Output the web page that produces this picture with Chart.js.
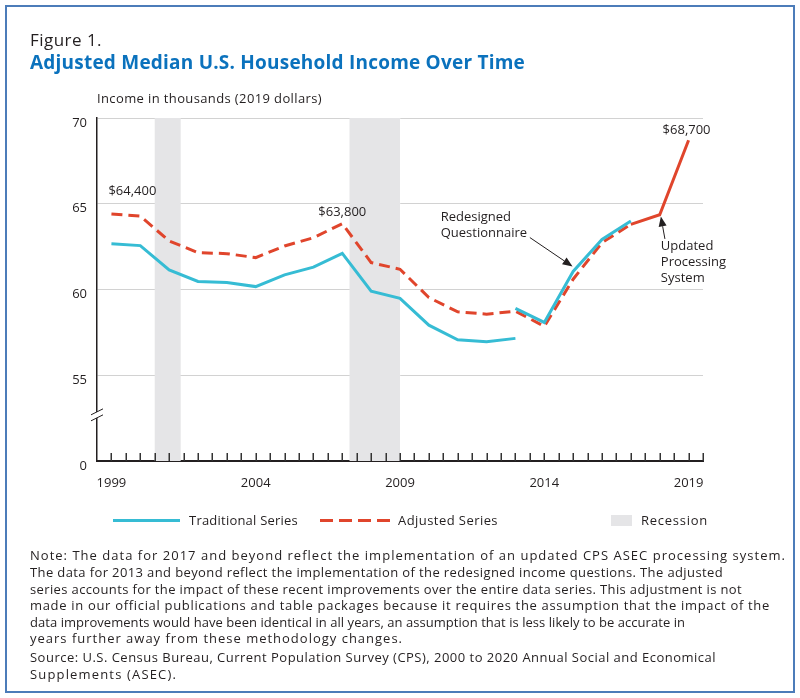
<!DOCTYPE html>
<html lang="en">
<head>
<meta charset="UTF-8">
<title>Figure 1. Adjusted Median U.S. Household Income Over Time</title>
<script src="https://cdn.jsdelivr.net/npm/chart.js@4.4.0/dist/chart.umd.min.js"></script>
<style>
  body { margin: 0; background: #fff; font-family: "Open Sans", sans-serif; color: #231f20; }
  #frame { position: absolute; left: 5px; top: 5px; width: 790px; height: 688px; box-sizing: border-box; border: 2px solid #4c7cb9; }
  #chart { position: absolute; left: 0; top: 0; }
  .t { position: absolute; white-space: nowrap; line-height: 16px; }
  .fig { font-size: 17px; line-height: 20px; }
  .title { font-size: 19px; line-height: 24px; font-weight: 700; color: #0b72bd; }
  .small { font-size: 13px; }
  .sw { position: absolute; }
</style>
</head>
<body>
<div id="frame"></div>
<canvas id="chart" width="800" height="698"></canvas>

<div class="t fig" style="left:30px; top:30px;" data-w="72">Figure 1.</div>
<div class="t title" style="left:30px; top:50px;" data-w="495">Adjusted Median U.S. Household Income Over Time</div>
<div class="t small" style="left:97px; top:90px;" data-w="225">Income in thousands (2019 dollars)</div>

<!-- legend -->
<div class="sw" style="left:113px; top:519px; width:67px; height:3px; background:#36bcd4;"></div>
<div class="t small" style="left:189px; top:512px;" data-w="109">Traditional Series</div>
<div class="sw" style="left:320px; top:519px; width:70px; height:3px; background:repeating-linear-gradient(to right,#e0452c 0 13px,transparent 13px 19px);"></div>
<div class="t small" style="left:398px; top:512px;" data-w="100">Adjusted Series</div>
<div class="sw" style="left:611px; top:515px; width:21px; height:11px; background:#e5e5e7;"></div>
<div class="t small" style="left:641px; top:512px;" data-w="67">Recession</div>

<!-- notes -->
<div class="t small" style="left:30px; top:547px;" data-w="756">Note: The data for 2017 and beyond reflect the implementation of an updated CPS ASEC processing system.</div>
<div class="t small" style="left:30px; top:564px;" data-w="693">The data for 2013 and beyond reflect the implementation of the redesigned income questions. The adjusted</div>
<div class="t small" style="left:30px; top:581px;" data-w="712">series accounts for the impact of these recent improvements over the entire data series. This adjustment is not</div>
<div class="t small" style="left:30px; top:597px;" data-w="740">made in our official publications and table packages because it requires the assumption that the impact of the</div>
<div class="t small" style="left:30px; top:614px;" data-w="655">data improvements would have been identical in all years, an assumption that is less likely to be accurate in</div>
<div class="t small" style="left:30px; top:630px;" data-w="373">years further away from these methodology changes.</div>
<div class="t small" style="left:30px; top:649px;" data-w="686">Source: U.S. Census Bureau, Current Population Survey (CPS), 2000 to 2020 Annual Social and Economical</div>
<div class="t small" style="left:30px; top:666px;" data-w="147">Supplements (ASEC).</div>

<script>
// ---- data ----
var years = [1999, 2000, 2001, 2002, 2003, 2004, 2005, 2006, 2007, 2008, 2009,
             2010, 2011, 2012, 2013, 2014, 2015, 2016, 2017, 2018, 2019];
// traditional series, old questionnaire (1999-2013)
var traditionalOld = [62.67, 62.56, 61.14, 60.47, 60.41, 60.17, 60.85, 61.30, 62.11, 59.90, 59.48,
                      57.92, 57.07, 56.95, 57.15];
// traditional series, redesigned questionnaire (2013-2017)
var traditionalNewYears = [2013, 2014, 2015, 2016, 2017];
var traditionalNew = [58.90, 58.08, 61.05, 62.92, 63.99];
// adjusted series (1999-2019)
var adjusted = [64.40, 64.28, 62.83, 62.15, 62.09, 61.86, 62.54, 63.02, 63.84, 61.57, 61.18,
                59.53, 58.70, 58.56, 58.74, 57.85, 60.60, 62.73, 63.80, 64.36, 68.70];
var recessions = [[2000.5, 2001.4], [2007.25, 2009.0]];
var xTickYears = [1999, 2004, 2009, 2014, 2019];
var yTickValues = [50, 55, 60, 65, 70];
var yTickLabels = ['0', '55', '60', '65', '70'];

var FONT = '"Open Sans", sans-serif';
var INK = '#231f20';

function pts(xs, ys) {
    return ys.map(function(v, i) { return { x: xs[i], y: v }; });
}

// fit html text to the measured widths
document.querySelectorAll('[data-w]').forEach(function(el) {
    var target = +el.dataset.w;
    var w = el.getBoundingClientRect().width;
    el.style.letterSpacing = ((target - w) / el.textContent.length) + 'px';
});

var recessionPlugin = {
    id: 'recessions',
    beforeDatasetsDraw: function(chart) {
        var ctx = chart.ctx, a = chart.chartArea, x = chart.scales.x;
        ctx.save();
        ctx.fillStyle = '#e5e5e7';
        recessions.forEach(function(r) {
            var x0 = x.getPixelForValue(r[0]), x1 = x.getPixelForValue(r[1]);
            ctx.fillRect(x0, a.top, x1 - x0, a.bottom - a.top);
        });
        ctx.restore();
    }
};

function arrow(ctx, x0, y0, x1, y1) {
    var ang = Math.atan2(y1 - y0, x1 - x0);
    var len = 10, wid = 4;
    ctx.beginPath();
    ctx.moveTo(x0, y0);
    ctx.lineTo(x1 - Math.cos(ang) * len, y1 - Math.sin(ang) * len);
    ctx.stroke();
    ctx.beginPath();
    ctx.moveTo(x1, y1);
    ctx.lineTo(x1 - Math.cos(ang) * len - Math.sin(ang) * wid, y1 - Math.sin(ang) * len + Math.cos(ang) * wid);
    ctx.lineTo(x1 - Math.cos(ang) * len + Math.sin(ang) * wid, y1 - Math.sin(ang) * len - Math.cos(ang) * wid);
    ctx.closePath();
    ctx.fill();
}

var decorPlugin = {
    id: 'decor',
    afterDatasetsDraw: function(chart) {
        var ctx = chart.ctx, a = chart.chartArea, x = chart.scales.x, y = chart.scales.y;
        ctx.save();

        // half-year tick marks standing on the x axis
        ctx.strokeStyle = '#333';
        ctx.lineWidth = 1.5;
        for (var t = years[0]; t <= x.max + 0.001; t += 0.5) {
            var px = Math.round(x.getPixelForValue(t)) + 0.25;
            ctx.beginPath();
            ctx.moveTo(px, a.bottom);
            ctx.lineTo(px, a.bottom - 8);
            ctx.stroke();
        }

        // axis break on the y axis
        var by = y.getPixelForValue(52.75);
        ctx.fillStyle = '#fff';
        ctx.beginPath();
        ctx.moveTo(a.left - 6, by + 1); ctx.lineTo(a.left + 6, by - 5);
        ctx.lineTo(a.left + 6, by + 1); ctx.lineTo(a.left - 6, by + 7);
        ctx.closePath();
        ctx.fill();
        ctx.strokeStyle = INK;
        ctx.lineWidth = 1;
        ctx.beginPath();
        ctx.moveTo(a.left - 6, by + 1); ctx.lineTo(a.left + 6, by - 5);
        ctx.moveTo(a.left - 6, by + 7); ctx.lineTo(a.left + 6, by + 1);
        ctx.stroke();

        // value labels
        ctx.fillStyle = INK;
        ctx.font = '13px ' + FONT;
        ctx.textBaseline = 'middle';
        ctx.textAlign = 'left';
        ctx.fillText('$64,400', x.getPixelForValue(1999) - 3, y.getPixelForValue(adjusted[0]) - 23);
        ctx.textAlign = 'center';
        ctx.fillText('$63,800', x.getPixelForValue(2007), y.getPixelForValue(adjusted[8]) - 11);
        ctx.fillText('$68,700', x.getPixelForValue(2019) - 2, y.getPixelForValue(adjusted[20]) - 10);

        // annotations
        ctx.textAlign = 'left';
        var rx = x.getPixelForValue(2010.41), ry = y.getPixelForValue(64.22);
        ctx.fillText('Redesigned', rx, ry);
        ctx.fillText('Questionnaire', rx, ry + 16);
        var ux = x.getPixelForValue(2018.04), uy = y.getPixelForValue(62.49);
        ctx.fillText('Updated', ux, uy);
        ctx.fillText('Processing', ux, uy + 16);
        ctx.fillText('System', ux, uy + 32);

        ctx.strokeStyle = INK;
        ctx.fillStyle = INK;
        ctx.lineWidth = 1;
        arrow(ctx, x.getPixelForValue(2013.5), y.getPixelForValue(63.03),
                   x.getPixelForValue(2014.98), y.getPixelForValue(61.34));
        arrow(ctx, x.getPixelForValue(2018.18), y.getPixelForValue(62.95),
                   x.getPixelForValue(2018.04), y.getPixelForValue(64.26));
        ctx.restore();
    }
};

var dash = [11, 6];

new Chart(document.getElementById('chart').getContext('2d'), {
    type: 'line',
    data: {
        datasets: [{
            label: 'Traditional Series',
            data: pts(years, traditionalOld),
            borderColor: '#36bcd4',
            borderWidth: 3,
            pointRadius: 0,
            fill: false
        }, {
            label: 'Traditional Series (redesigned)',
            data: pts(traditionalNewYears, traditionalNew),
            borderColor: '#36bcd4',
            borderWidth: 3,
            pointRadius: 0,
            fill: false
        }, {
            label: 'Adjusted Series',
            data: pts(years, adjusted),
            borderColor: '#e0452c',
            borderWidth: 3,
            pointRadius: 0,
            fill: false,
            segment: {
                borderDash: function(c) { return c.p0.parsed.x >= 2017 ? [] : dash; }
            }
        }]
    },
    plugins: [recessionPlugin, decorPlugin],
    options: {
        responsive: false,
        animation: false,
        devicePixelRatio: 1,
        layout: { padding: { left: 0, top: 118, right: 97, bottom: 0 } },
        plugins: { legend: { display: false }, tooltip: { enabled: false } },
        scales: {
            x: {
                type: 'linear',
                min: 1998.5,
                max: 2019.5,
                afterBuildTicks: function(s) { s.ticks = xTickYears.map(function(v) { return { value: v }; }); },
                afterFit: function(s) { s.height = 237; },
                grid: { display: false, drawTicks: false },
                border: { display: true, color: INK, width: 2 },
                ticks: {
                    padding: 14,
                    color: INK,
                    font: { family: FONT, size: 13 },
                    maxRotation: 0,
                    autoSkip: false,
                    callback: function(v) { return String(v); }
                }
            },
            y: {
                min: 50,
                max: 70,
                afterBuildTicks: function(s) { s.ticks = yTickValues.map(function(v) { return { value: v }; }); },
                afterFit: function(s) { s.width = 97; },
                grid: {
                    drawTicks: false,
                    lineWidth: 1,
                    color: function(c) { return c.tick && c.tick.value === 50 ? 'rgba(0,0,0,0)' : '#d2d2d2'; }
                },
                border: { display: true, color: INK, width: 1.5 },
                ticks: {
                    padding: 10,
                    labelOffset: 5,
                    color: INK,
                    font: { family: FONT, size: 13 },
                    callback: function(v) { return yTickLabels[yTickValues.indexOf(v)]; }
                }
            }
        }
    }
});
</script>
</body>
</html>
